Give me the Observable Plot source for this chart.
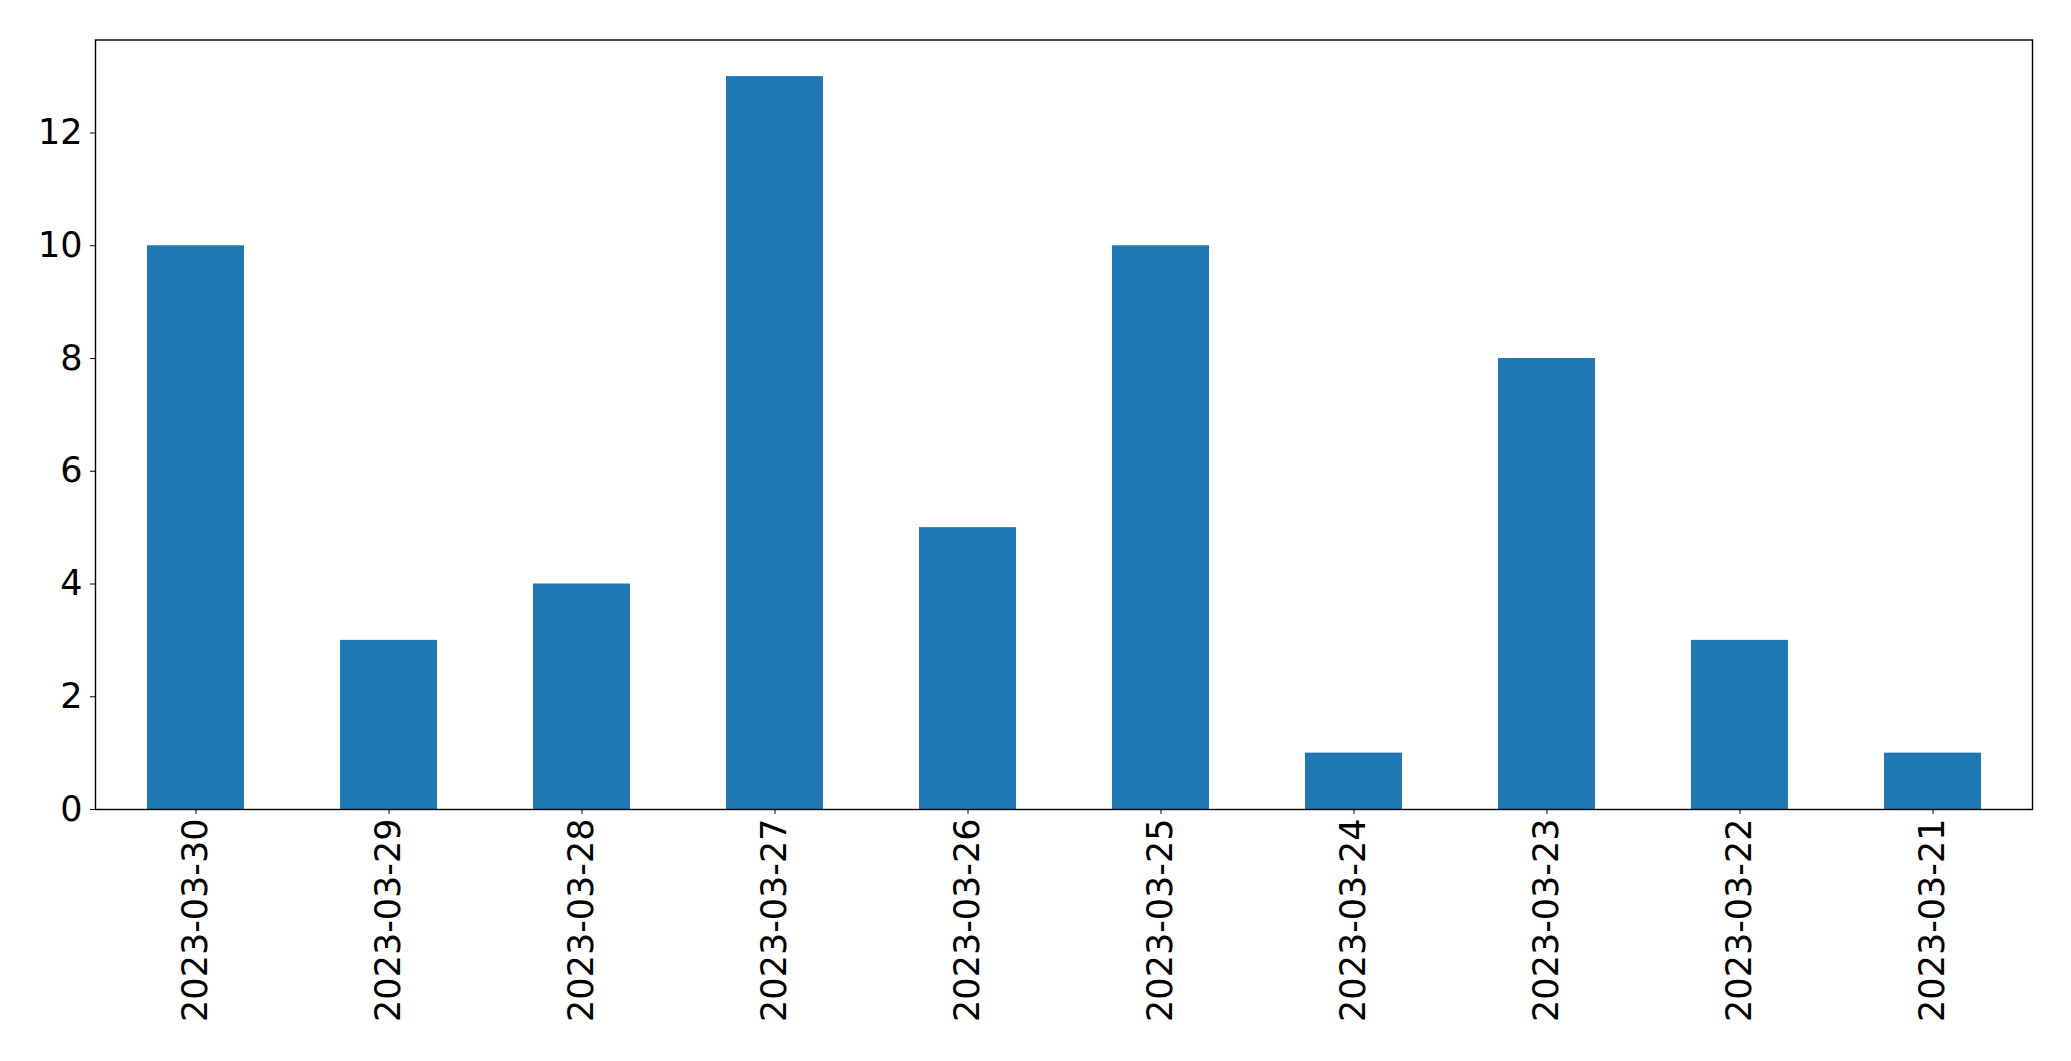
<!DOCTYPE html>
<html>
<head>
<meta charset="utf-8">
<script src="https://cdn.jsdelivr.net/npm/d3@7"></script>
<script src="https://cdn.jsdelivr.net/npm/@observablehq/plot@0.6"></script>
<style>
  html, body { margin: 0; padding: 0; background: #fff; }
  #chart svg { display: block; }
</style>
</head>
<body>
<div id="chart"></div>
<script>
const dates = ["2023-03-30","2023-03-29","2023-03-28","2023-03-27","2023-03-26","2023-03-25","2023-03-24","2023-03-23","2023-03-22","2023-03-21"];
const counts = [10, 3, 4, 13, 5, 10, 1, 8, 3, 1];
const yTicks = [0, 2, 4, 6, 8, 10, 12];

const data = dates.map((d, i) => ({date: d, count: counts[i]}));

const chart = Plot.plot({
  width: 2071,
  height: 1061,
  marginLeft: 95,
  marginRight: 39,
  marginTop: 39.5,
  marginBottom: 252,
  style: {fontFamily: "DejaVu Sans", fontSize: "35px", color: "#000", background: "#fff"},
  x: {domain: dates, type: "band", paddingInner: 0.5, paddingOuter: 0.25, label: null},
  y: {domain: [0, 13.65], label: null},
  marks: [
    Plot.barY(data, {x: "date", y: "count", fill: "#1f77b4"}),
    Plot.axisY({ticks: yTicks, tickSize: 5, tickPadding: 8, tickFormat: d => String(d), label: null, fontSize: 35}),
    Plot.axisX({tickSize: 5, tickPadding: 4, tickRotate: -90, label: null, fontSize: 35}),
    Plot.frame({stroke: "#000", strokeWidth: 1.4})
  ]
});
document.getElementById("chart").appendChild(chart);
</script>
</body>
</html>
